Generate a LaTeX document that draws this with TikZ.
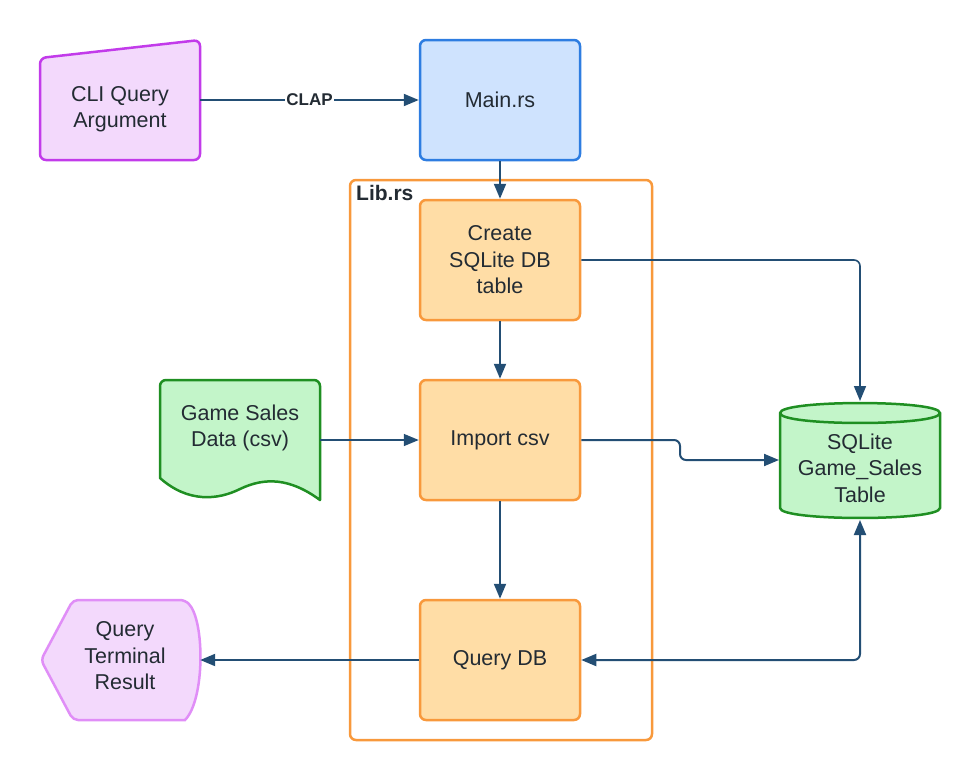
\documentclass[tikz,border=0pt]{standalone}
\usepackage{fontspec}
\setmainfont{Liberation Sans}
\usetikzlibrary{arrows.meta}
\definecolor{txt}{HTML}{232B33}
\definecolor{conn}{HTML}{234E74}
\definecolor{purpfill}{HTML}{F3D9FC}
\definecolor{purpdark}{HTML}{C23BEA}
\definecolor{purplite}{HTML}{E08EF7}
\definecolor{bluefill}{HTML}{CFE3FE}
\definecolor{bluedraw}{HTML}{2E7DE1}
\definecolor{orfill}{HTML}{FFDDA6}
\definecolor{ordraw}{HTML}{F8993C}
\definecolor{grfill}{HTML}{C3F5C9}
\definecolor{grdraw}{HTML}{1F8F22}
\tikzset{
  bodyfont/.style={font=\fontsize{21.5}{26.5}\selectfont},
  lbl/.style={text=txt, bodyfont, align=center, inner sep=0pt, minimum width=160pt, minimum height=120pt},
  txtonly/.style={text=txt, bodyfont, align=center, inner sep=0pt},
  procbox/.style={lbl, draw=ordraw, fill=orfill, line width=2.5pt, rounded corners=6pt},
  conline/.style={draw=conn, line width=2pt, -{Triangle[length=15pt,width=12pt]}},
}
\begin{document}
\begin{tikzpicture}[x=1pt,y=-1pt]
\useasboundingbox (0,0) rectangle (980,780);
% Lib.rs container
\draw[draw=ordraw, line width=2.5pt, rounded corners=6pt] (350,180) rectangle (652,740);
\node[anchor=north west, text=txt, font=\fontsize{21}{24}\selectfont\bfseries, inner sep=0pt] (librs) at (356,185) {Lib.rs};
% CLI Query Argument (manual input)
\draw[draw=purpdark, fill=purpfill, line width=2.5pt, rounded corners=6pt] (40,58) -- (200,40) -- (200,160) -- (40,160) -- cycle;
\node[lbl] (cli) at (120,100) {};
\node[txtonly] (clitxt) at (120,109) {CLI Query\\Argument};
% Main.rs
\node[lbl, draw=bluedraw, fill=bluefill, line width=2.5pt, rounded corners=6pt] (main) at (500,100) {Main.rs};
% Create, Import, Query
\node[procbox] (create) at (500,260) {Create\\SQLite DB\\table};
\node[procbox] (import) at (500,440) {Import csv};
\node[procbox] (query) at (500,660) {Query DB};
% Game Sales Data (document)
\draw[draw=grdraw, fill=grfill, line width=2.5pt, line join=round] (160,478) -- (160,386) .. controls (160,382.7) and (162.7,380) .. (166,380) -- (314,380) .. controls (317.3,380) and (320,382.7) .. (320,386) -- (320,500) .. controls (290,478) and (265,477) .. (240,489) .. controls (218,500) and (188,503) .. (160,478) -- cycle;
\node[lbl] (gsd) at (240,440) {};
\node[txtonly] (gsdtxt) at (240,428) {Game Sales\\Data (csv)};
% SQLite cylinder
\draw[draw=grdraw, fill=grfill, line width=2.5pt] (780,413) -- (780,508) .. controls (780,521.3) and (940,521.3) .. (940,508) -- (940,413) .. controls (940,399.7) and (780,399.7) .. (780,413) -- cycle;
\draw[draw=grdraw, line width=2.5pt] (780,413) .. controls (780,426.3) and (940,426.3) .. (940,413);
\node[lbl] (db) at (860,460) {};
\node[txtonly] (dbtxt) at (860,468) {SQLite\\Game\_Sales\\Table};
% Query Terminal Result (display)
\draw[draw=purplite, fill=purpfill, line width=2.5pt, rounded corners=5pt] (41,660) -- (73,600) -- (185,600) [sharp corners] .. controls (205,620) and (205,700) .. (185,720) [rounded corners=5pt] -- (73,720) -- cycle;
\node[lbl] (res) at (120,660) {};
\node[txtonly] (restxt) at (125,656) {Query\\Terminal\\Result};
% connectors
\draw[conline] (cli.east) -- node[fill=white, text=txt, font=\fontsize{17}{20}\selectfont\bfseries, inner sep=1pt] (clap) {CLAP} (main.west);
\draw[conline] (main.south) -- (create.north);
\draw[conline, line width=1.6pt, rounded corners=6pt] (create.east) -| (860,401);
\draw[conline] (create.south) -- (import.north);
\draw[conline, line width=1.6pt] (gsd.east) -- (import.west);
\draw[conline, rounded corners=6pt] (import.east) -- (680,440) -- (680,460) -- (779,460);
\draw[conline] (import.south) -- (query.north);
\draw[conline] (query.west) -- (res.east);
\draw[conline, {Triangle[length=15pt,width=12pt]}-{Triangle[length=15pt,width=12pt]}, rounded corners=6pt] (query.east) -- (860,660) -- (860,520);
\end{tikzpicture}
\end{document}
